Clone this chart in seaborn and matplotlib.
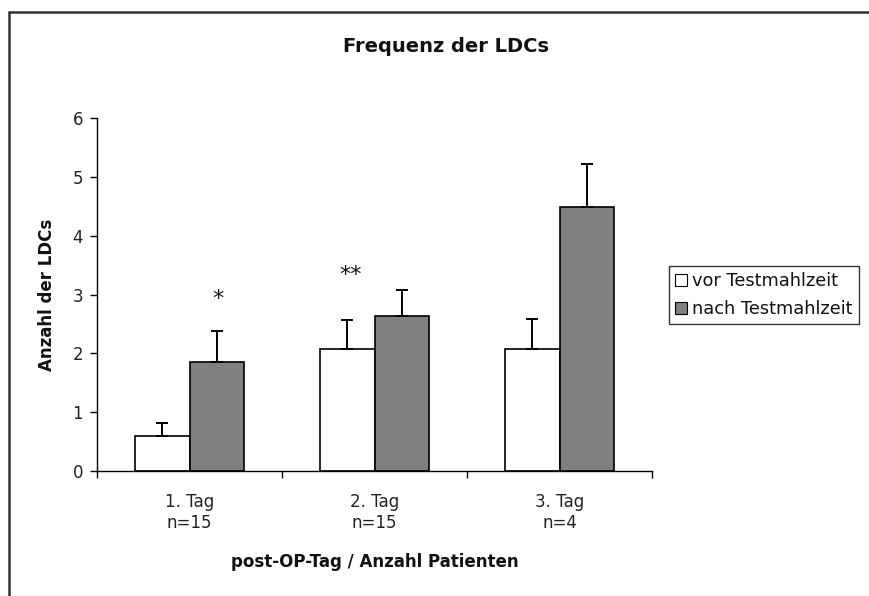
import matplotlib
matplotlib.use("Agg")
import matplotlib.pyplot as plt
import matplotlib.lines as mlines
import seaborn as sns
import pandas as pd
import numpy as np

categories = ["1. Tag\nn=15", "2. Tag\nn=15", "3. Tag\nn=4"]
series = ["vor Testmahlzeit", "nach Testmahlzeit"]
vor_values = [0.59, 2.07, 2.07]
nach_values = [1.85, 2.64, 4.49]
vor_err = [0.22, 0.49, 0.52]
nach_err = [0.53, 0.44, 0.72]
significance = ["*", "**", ""]
sig_offset = [0.155, -0.13, 0.0]
sig_y = [2.93, 3.33]
y_ticks = [0, 1, 2, 3, 4, 5, 6]

sns.set_theme(style="white")
plt.rcParams["font.family"] = ["DejaVu Sans"]
plt.rcParams["text.color"] = "#111111"
plt.rcParams["axes.labelcolor"] = "#111111"

df = pd.DataFrame({
    "Tag": categories * 2,
    "Serie": [series[0]] * 3 + [series[1]] * 3,
    "Wert": vor_values + nach_values,
})

fig = plt.figure(figsize=(8.69, 5.96), dpi=100)
ax = fig.add_axes([97 / 869, 1 - 471 / 596, 555 / 869, 353 / 596])

sns.barplot(data=df, x="Tag", y="Wert", hue="Serie", order=categories,
            hue_order=series, palette=["#ffffff", "#808080"],
            edgecolor="black", linewidth=1.2, width=0.584, errorbar=None,
            ax=ax, legend=True)

errs = [vor_err, nach_err]
vals = [vor_values, nach_values]
for cont, e, v in zip(ax.containers, errs, vals):
    xs = [p.get_x() + p.get_width() / 2 for p in cont.patches]
    ax.errorbar(xs, v, yerr=[np.zeros(len(e)), e], fmt="none",
                ecolor="black", elinewidth=1.4, capsize=4, capthick=1.4, zorder=1)

# significance markers
for i, s in enumerate(significance):
    if s:
        ax.text(i + sig_offset[i], sig_y[i], s,
                ha="center", va="center", fontsize=16, color="#111111")

ax.set_ylim(0, 6)
ax.set_xlim(-0.5, 2.5)
ax.set_yticks(y_ticks)
ax.set_yticklabels([str(t) for t in y_ticks], fontsize=12, color="#222222")
ax.set_xticks([-0.5, 0.5, 1.5, 2.5])
ax.set_xticklabels([])
ax.set_xticks([0, 1, 2], minor=True)
ax.set_xticklabels(categories, minor=True, fontsize=12, color="#222222",
                   linespacing=1.2)
ax.tick_params(axis="x", which="major", direction="out", length=5, width=1,
               color="black", bottom=True)
ax.tick_params(axis="x", which="minor", length=0, pad=16)
ax.tick_params(axis="y", direction="out", length=5, width=1, color="black",
               left=True, pad=5)

for side in ["top", "right"]:
    ax.spines[side].set_visible(False)
for side in ["left", "bottom"]:
    ax.spines[side].set_color("black")
    ax.spines[side].set_linewidth(1.0)

ax.set_xlabel("post-OP-Tag / Anzahl Patienten", fontsize=12, fontweight="bold",
              labelpad=15)
ax.set_ylabel("Anzahl der LDCs", fontsize=12, fontweight="bold", labelpad=12)

fig.text(446 / 869, 1 - 47 / 596, "Frequenz der LDCs", ha="center",
         va="center", fontsize=14, fontweight="bold")

leg = ax.legend(loc="upper left", bbox_to_anchor=(669 / 869, 1 - 266 / 596),
                bbox_transform=fig.transFigure, frameon=True, fancybox=False,
                edgecolor="black", fontsize=12.8, handlelength=0.65,
                handleheight=0.65, handletextpad=0.3, borderpad=0.35,
                labelspacing=0.55, borderaxespad=0)
leg.get_frame().set_linewidth(1.0)
for h in leg.legend_handles:
    h.set_edgecolor("black")
    h.set_linewidth(0.8)

# outer chart border (top and left visible)
fig.add_artist(mlines.Line2D([9 / 869, 1], [1 - 12 / 596, 1 - 12 / 596],
                             transform=fig.transFigure, color="#333333", lw=1.8))
fig.add_artist(mlines.Line2D([9 / 869, 9 / 869], [0, 1 - 12 / 596],
                             transform=fig.transFigure, color="#333333", lw=1.8))

fig.savefig("out.png", dpi=100)
